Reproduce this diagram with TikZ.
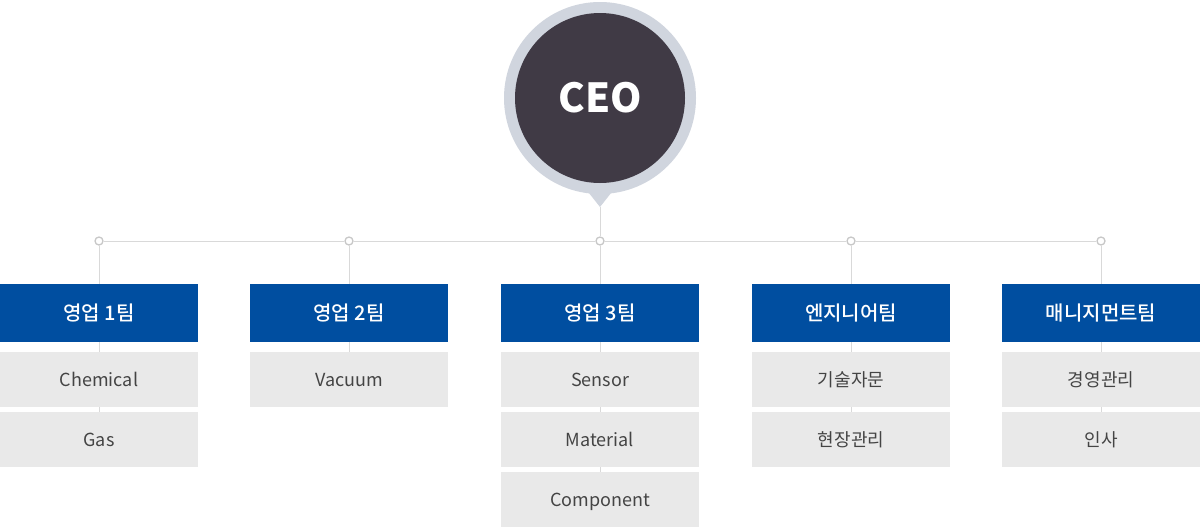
\documentclass[tikz,border=0pt]{standalone}
\usepackage{fontspec}
\setmainfont{Noto Sans CJK KR}
\newfontfamily\krmed{Noto Sans CJK KR Medium}
\definecolor{hdrblue}{HTML}{004EA0}
\definecolor{subgray}{HTML}{E9E9E9}
\definecolor{txtgray}{HTML}{444444}
\definecolor{linegray}{HTML}{D9D9D9}
\definecolor{ringgray}{HTML}{D0D5DE}
\definecolor{ceodark}{HTML}{403A45}
\definecolor{markgray}{HTML}{C8C8C8}
\tikzset{
  hdr/.style={fill=hdrblue, text=white, minimum width=198pt, minimum height=58pt, inner sep=0pt, text height=14.7pt, text depth=0pt, font=\krmed\fontsize{20}{23}\selectfont},
  sub/.style={fill=subgray, text=txtgray, minimum width=198pt, minimum height=55pt, inner sep=0pt, text height=13.2pt, text depth=0pt, font=\fontsize{18}{21}\selectfont},
  conn/.style={draw=linegray, line width=1pt},
  marker/.style={circle, draw=markgray, fill=white, line width=1.3pt, minimum size=8pt, inner sep=0pt}
}
\begin{document}
\begin{tikzpicture}[x=1pt,y=-1pt]
\useasboundingbox[fill=white] (0,0) rectangle (1200,528);
% CEO
\node[circle, fill=ringgray, minimum size=192pt, inner sep=0pt] (ring) at (600,98) {};
\coordinate (tipL) at (585,188);
\coordinate (tipR) at (615,188);
\coordinate (tip) at (600,207);
\fill[ringgray] (tipL) -- (tip) -- (tipR) -- cycle;
% columns
\foreach \i/\x in {1/99,2/349,3/600,4/851,5/1101}{
  \node[marker] (m\i) at (\x,241) {};
}
\draw[conn] (m1) -- (m2) -- (m3) -- (m4) -- (m5);
% boxes
\node[hdr] (h1) at (99,313) {영업 1팀};
\node[hdr] (h2) at (349,313) {영업 2팀};
\node[hdr] (h3) at (600,313) {영업 3팀};
\node[hdr] (h4) at (851,313) {엔지니어팀};
\node[hdr] (h5) at (1101,313) {매니지먼트팀};
\node[sub] (s11) at (99,379.5) {Chemical};
\node[sub] (s12) at (99,439.5) {Gas};
\node[sub] (s21) at (349,379.5) {Vacuum};
\node[sub] (s31) at (600,379.5) {Sensor};
\node[sub] (s32) at (600,439.5) {Material};
\node[sub] (s33) at (600,499.5) {Component};
\node[sub] (s41) at (851,379.5) {기술자문};
\node[sub] (s42) at (851,439.5) {현장관리};
\node[sub] (s51) at (1101,379.5) {경영관리};
\node[sub] (s52) at (1101,439.5) {인사};
% vertical connectors
\draw[conn] (m1) -- (h1.north);
\draw[conn] (h1.south) -- (s11.north);
\draw[conn] (s11.south) -- (s12.north);
\draw[conn] (m2) -- (h2.north);
\draw[conn] (h2.south) -- (s21.north);
\draw[conn] (tip) -- (m3);
\draw[conn] (m3) -- (h3.north);
\draw[conn] (h3.south) -- (s31.north);
\draw[conn] (s31.south) -- (s32.north);
\draw[conn] (s32.south) -- (s33.north);
\draw[conn] (m4) -- (h4.north);
\draw[conn] (h4.south) -- (s41.north);
\draw[conn] (s41.south) -- (s42.north);
\draw[conn] (m5) -- (h5.north);
\draw[conn] (h5.south) -- (s51.north);
\draw[conn] (s51.south) -- (s52.north);
\node[circle, fill=ceodark, minimum size=170pt, inner sep=0pt, text=white, font=\fontsize{40}{45}\selectfont\bfseries] (ceo) at (ring.center) {CEO};
\end{tikzpicture}
\end{document}
